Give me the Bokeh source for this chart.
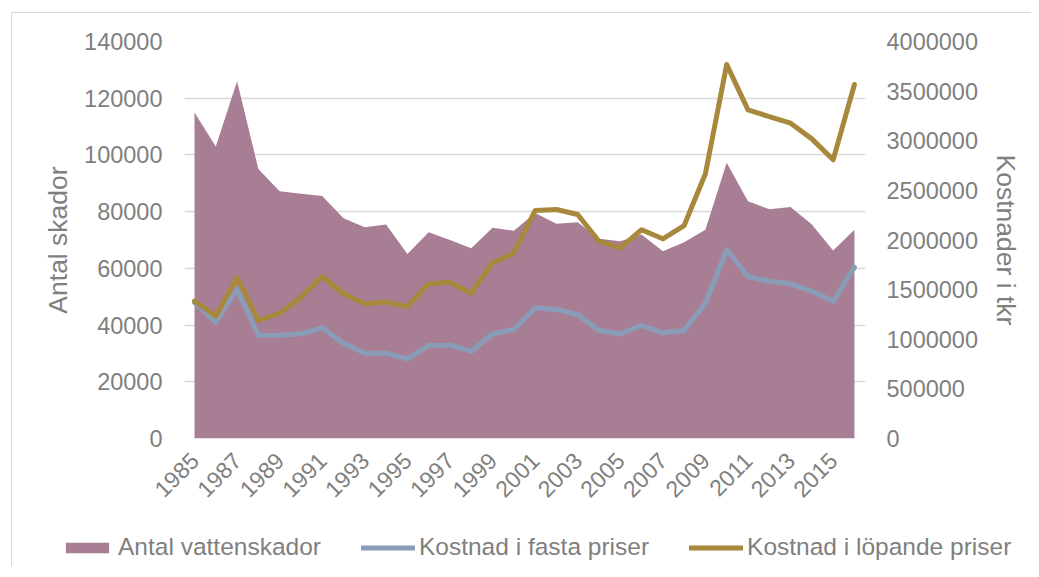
from bokeh.plotting import figure
from bokeh.layouts import column
from bokeh.models import (Range1d, LinearAxis, FixedTicker, BasicTickFormatter,
                          Legend, LegendItem)
from bokeh.embed import file_html
from bokeh.resources import INLINE
import math

years = list(range(1985, 2017))
antal_vattenskador = [115000, 103000, 126000, 95000, 87200, 86300, 85500, 77700,
                      74500, 75500, 65100, 72700, 70000, 67100, 74300, 73300,
                      79500, 75700, 76300, 70400, 69600, 71900, 66000, 69200,
                      73600, 97200, 83700, 80800, 81600, 75500, 66300, 73600]
kostnad_fasta = [1370000, 1172000, 1508000, 1038000, 1040000, 1055000, 1115000, 960000,
                 860000, 858000, 803000, 937000, 940000, 877000, 1055000, 1098000,
                 1317000, 1300000, 1249000, 1088000, 1055000, 1139000, 1065000, 1088000,
                 1363000, 1901000, 1632000, 1585000, 1558000, 1484000, 1383000, 1726000]
kostnad_lopande = [1385000, 1232000, 1619000, 1189000, 1262000, 1424000, 1632000, 1458000,
                   1357000, 1374000, 1330000, 1558000, 1575000, 1464000, 1770000, 1867000,
                   2297000, 2307000, 2257000, 1988000, 1921000, 2103000, 2012000, 2146000,
                   2667000, 3768000, 3311000, 3244000, 3177000, 3019000, 2808000, 3567000]
x_tick_years = list(range(1985, 2017, 2))
left_ticks = list(range(0, 140001, 20000))
right_ticks = list(range(0, 4000001, 500000))
series_labels = ["Antal vattenskador", "Kostnad i fasta priser", "Kostnad i löpande priser"]

FONT = "Liberation Sans"
GRAY = "#7f7f7f"
C_AREA = "#a87e94"
C_BLUE = "#8a9db8"
C_GOLD = "#a8893c"

p = figure(width=1019, height=497, output_backend="svg", toolbar_location=None,
           x_range=Range1d(1984.53, 2016.52), y_range=Range1d(0, 140000),
           min_border_left=172, min_border_right=166, min_border_top=28,
           min_border_bottom=72)
p.extra_y_ranges = {"cost": Range1d(0, 4000000)}
p.outline_line_color = None
p.background_fill_color = "white"
p.border_fill_color = "white"

r_area = p.varea(x=years, y1=0, y2=antal_vattenskador, fill_color=C_AREA)
r_blue = p.line(x=years, y=kostnad_fasta, y_range_name="cost", line_color=C_BLUE,
                line_width=5, line_cap="round", line_join="round")
r_gold = p.line(x=years, y=kostnad_lopande, y_range_name="cost", line_color=C_GOLD,
                line_width=5, line_cap="round", line_join="round")

# x axis
xa = p.xaxis[0]
xa.ticker = FixedTicker(ticks=x_tick_years)
xa.major_label_orientation = math.pi / 4
xa.axis_line_color = None
xa.major_tick_line_color = None
xa.minor_tick_line_color = None
xa.major_label_text_font = FONT
xa.major_label_text_font_size = "23px"
xa.major_label_text_color = GRAY
xa.major_label_standoff = 12

# left axis
ya = p.yaxis[0]
ya.ticker = FixedTicker(ticks=left_ticks)
ya.formatter = BasicTickFormatter(use_scientific=False)
ya.axis_line_color = None
ya.major_tick_line_color = None
ya.minor_tick_line_color = None
ya.major_tick_out = 0
ya.major_label_standoff = 22
ya.major_label_text_font = FONT
ya.major_label_text_font_size = "23.5px"
ya.major_label_text_color = GRAY
ya.axis_label = "Antal skador"
ya.axis_label_text_font = FONT
ya.axis_label_text_font_size = "26.5px"
ya.axis_label_text_font_style = "normal"
ya.axis_label_text_color = GRAY
ya.axis_label_standoff = 8

# right axis
ra = LinearAxis(y_range_name="cost", ticker=FixedTicker(ticks=right_ticks),
                formatter=BasicTickFormatter(use_scientific=False))
ra.axis_line_color = None
ra.major_tick_line_color = None
ra.minor_tick_line_color = None
ra.major_tick_out = 0
ra.major_label_standoff = 21
ra.major_label_text_font = FONT
ra.major_label_text_font_size = "23.5px"
ra.major_label_text_color = GRAY
ra.axis_label = "Kostnader i tkr"
ra.axis_label_text_font = FONT
ra.axis_label_text_font_size = "26.5px"
ra.axis_label_text_font_style = "normal"
ra.axis_label_text_color = GRAY
ra.axis_label_standoff = 10
p.add_layout(ra, "right")

p.xgrid.grid_line_color = None
p.ygrid.ticker = FixedTicker(ticks=left_ticks)
p.ygrid.grid_line_color = "#d9d9d9"
p.ygrid.grid_line_width = 1.3

# legend strip (own small figure so the wide legend is not clipped)
can_unalign = "frame_align" in p.properties()
q = figure(width=1019, height=56, output_backend="svg", toolbar_location=None,
           x_range=Range1d(0, 1), y_range=Range1d(0, 1),
           min_border_left=0 if can_unalign else 172,
           min_border_right=0 if can_unalign else 166,
           min_border_top=0, min_border_bottom=0,
           x_axis_location=None, y_axis_location=None)
if can_unalign:
    p.frame_align = False
    q.frame_align = False
q.outline_line_color = None
q.grid.visible = False
q.border_fill_color = "white"
nan = float("nan")
la = q.varea(x=[nan], y1=[nan], y2=[nan], fill_color=C_AREA)
lb = q.line(x=[nan], y=[nan], line_color=C_BLUE, line_width=5, line_cap="round")
lg = q.line(x=[nan], y=[nan], line_color=C_GOLD, line_width=5, line_cap="round")

legend = Legend(items=[
    LegendItem(label=series_labels[0], renderers=[la]),
    LegendItem(label=series_labels[1], renderers=[lb]),
    LegendItem(label=series_labels[2], renderers=[lg]),
], orientation="horizontal", location=(48 if can_unalign else -118, 5))
legend.glyph_width = 54
legend.glyph_height = 13
legend.label_standoff = 4
legend.spacing = 40
legend.padding = 0
legend.margin = 0
legend.border_line_color = None
legend.background_fill_alpha = 0
legend.label_text_font = FONT
legend.label_text_font_size = "24.5px"
legend.label_text_color = GRAY
q.add_layout(legend, "center")

layout = column(p, q, spacing=0)
layout.margin = (12, 0, 0, 11)
layout.styles = {"border-left": "1px solid #d9d9d9", "border-top": "1px solid #d9d9d9"}

open("out.html", "w").write(file_html(layout, INLINE))
